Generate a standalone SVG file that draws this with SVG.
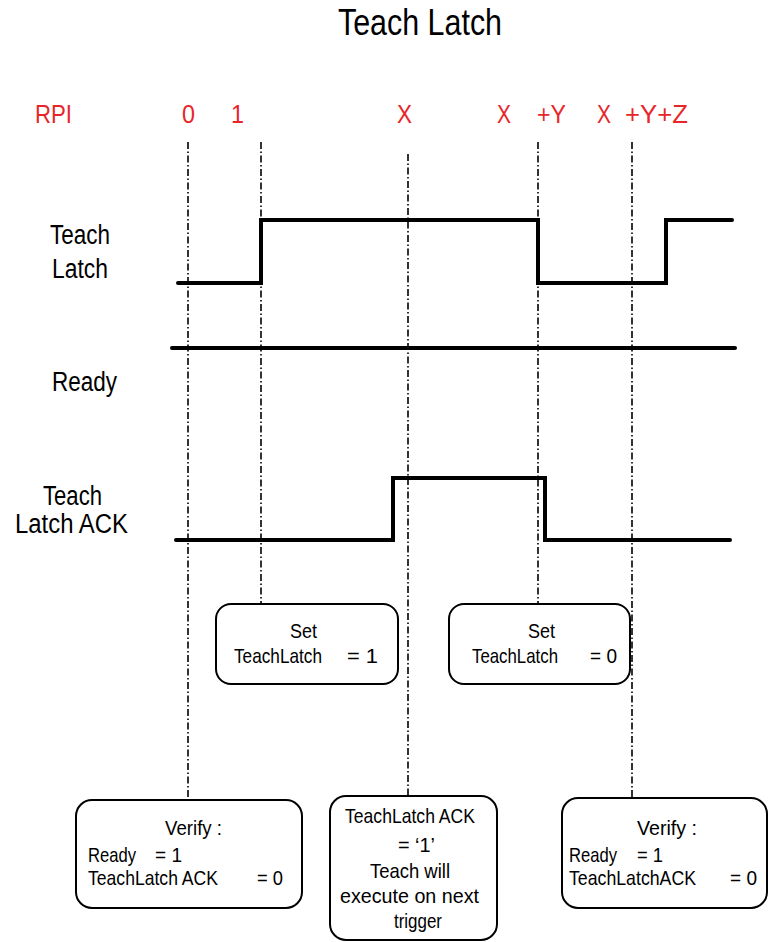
<svg xmlns="http://www.w3.org/2000/svg" width="769" height="942" viewBox="0 0 769 942">
<style>
text{font-family:"Liberation Sans",Arial,sans-serif;fill:#000}
.title{font-size:37px}
.lbl{font-size:27px}
.rpi{font-size:26px;fill:#e8262a}
.bt{font-size:21px}
.box{fill:#fff;stroke:#000;stroke-width:2}
.sig{fill:none;stroke:#000;stroke-width:4;stroke-linecap:round;stroke-linejoin:miter}
.guide{stroke:#000;stroke-width:1.6;stroke-dasharray:7 2.5 1.5 2.5;fill:none}
</style>
<rect width="769" height="942" fill="#fff"/>
<g id="title"><text class="title" x="338" y="35" textLength="164" lengthAdjust="spacingAndGlyphs">Teach Latch</text></g>
<g id="rpi-labels">
<text class="rpi" x="35" y="123" textLength="37" lengthAdjust="spacingAndGlyphs">RPI</text>
<text class="rpi" x="182" y="123" textLength="13" lengthAdjust="spacingAndGlyphs">0</text>
<text class="rpi" x="231" y="123" textLength="13" lengthAdjust="spacingAndGlyphs">1</text>
<text class="rpi" x="397" y="123" textLength="15" lengthAdjust="spacingAndGlyphs">X</text>
<text class="rpi" x="497" y="123" textLength="14" lengthAdjust="spacingAndGlyphs">X</text>
<text class="rpi" x="537" y="123" textLength="29" lengthAdjust="spacingAndGlyphs">+Y</text>
<text class="rpi" x="597" y="123" textLength="14" lengthAdjust="spacingAndGlyphs">X</text>
<text class="rpi" x="625" y="123" textLength="63" lengthAdjust="spacingAndGlyphs">+Y+Z</text>
</g>
<g id="connectors">
<line class="guide" x1="188" y1="142" x2="188" y2="800"/>
<line class="guide" x1="261" y1="142" x2="261" y2="604"/>
<line class="guide" x1="408" y1="154" x2="408" y2="796"/>
<line class="guide" x1="538" y1="142" x2="538" y2="604"/>
<line class="guide" x1="632" y1="142" x2="632" y2="798"/>
</g>
<g id="signal-teach-latch">
<text class="lbl" x="50" y="244" textLength="60" lengthAdjust="spacingAndGlyphs">Teach</text>
<text class="lbl" x="52" y="278" textLength="56" lengthAdjust="spacingAndGlyphs">Latch</text>
<path class="sig" d="M178,283 H261 V220 H538 V283 H666 V220 H732"/>
</g>
<g id="signal-ready">
<text class="lbl" x="52" y="391" textLength="65" lengthAdjust="spacingAndGlyphs">Ready</text>
<path class="sig" d="M172,348 H735"/>
</g>
<g id="signal-teach-latch-ack">
<text class="lbl" x="43" y="505" textLength="59" lengthAdjust="spacingAndGlyphs">Teach</text>
<text class="lbl" x="15" y="533" textLength="113" lengthAdjust="spacingAndGlyphs">Latch ACK</text>
<path class="sig" d="M176,540 H393 V478 H545 V540 H730"/>
</g>
<g id="box-set-1">
<rect class="box" x="216" y="604" width="182" height="80" rx="15"/>
<text class="bt" x="290" y="638" textLength="27" lengthAdjust="spacingAndGlyphs">Set</text>
<text class="bt" x="234" y="663" textLength="88" lengthAdjust="spacingAndGlyphs">TeachLatch</text>
<text class="bt" x="347" y="663" textLength="31" lengthAdjust="spacingAndGlyphs">= 1</text>
</g>
<g id="box-set-0">
<rect class="box" x="449" y="604" width="181" height="80" rx="15"/>
<text class="bt" x="528" y="638" textLength="27" lengthAdjust="spacingAndGlyphs">Set</text>
<text class="bt" x="472" y="663" textLength="86" lengthAdjust="spacingAndGlyphs">TeachLatch</text>
<text class="bt" x="590" y="663" textLength="27" lengthAdjust="spacingAndGlyphs">= 0</text>
</g>
<g id="box-verify-1">
<rect class="box" x="76" y="800" width="226" height="108" rx="16"/>
<text class="bt" x="165" y="835" textLength="57" lengthAdjust="spacingAndGlyphs">Verify :</text>
<text class="bt" x="88" y="862" textLength="48" lengthAdjust="spacingAndGlyphs">Ready</text>
<text class="bt" x="155" y="862" textLength="27" lengthAdjust="spacingAndGlyphs">= 1</text>
<text class="bt" x="88" y="885" textLength="130" lengthAdjust="spacingAndGlyphs">TeachLatch ACK</text>
<text class="bt" x="257" y="885" textLength="26" lengthAdjust="spacingAndGlyphs">= 0</text>
</g>
<g id="box-ack">
<rect class="box" x="330" y="796" width="167" height="144" rx="16"/>
<text class="bt" x="345" y="823" textLength="130" lengthAdjust="spacingAndGlyphs">TeachLatch ACK</text>
<text class="bt" x="398" y="852" textLength="37" lengthAdjust="spacingAndGlyphs">= ‘1’</text>
<text class="bt" x="370" y="878" textLength="80" lengthAdjust="spacingAndGlyphs">Teach will</text>
<text class="bt" x="340" y="903" textLength="139" lengthAdjust="spacingAndGlyphs">execute on next</text>
<text class="bt" x="394" y="928" textLength="48" lengthAdjust="spacingAndGlyphs">trigger</text>
</g>
<g id="box-verify-2">
<rect class="box" x="562" y="798" width="205" height="110" rx="16"/>
<text class="bt" x="637" y="835" textLength="60" lengthAdjust="spacingAndGlyphs">Verify :</text>
<text class="bt" x="569" y="862" textLength="48" lengthAdjust="spacingAndGlyphs">Ready</text>
<text class="bt" x="637" y="862" textLength="26" lengthAdjust="spacingAndGlyphs">= 1</text>
<text class="bt" x="569" y="885" textLength="127" lengthAdjust="spacingAndGlyphs">TeachLatchACK</text>
<text class="bt" x="730" y="885" textLength="27" lengthAdjust="spacingAndGlyphs">= 0</text>
</g>
</svg>
